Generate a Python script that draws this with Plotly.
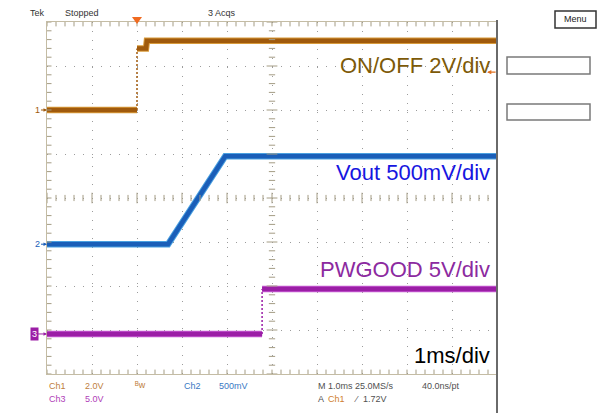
import plotly.graph_objects as go

# time in ms (1 ms/div, trigger at t=0), levels in volts
ch1_t = [-2.0, 0.0, 0.0, 0.2, 0.22, 8.0]
ch1_v = [0.0, 0.0, 2.8, 2.8, 3.15, 3.15]
ch2_t = [-2.0, 0.69, 1.96, 8.0]
ch2_v = [0.0, 0.0, 1.0, 1.0]
ch3_t = [-2.0, 2.78, 2.78, 8.0]
ch3_v = [0.0, 0.0, 5.1, 5.1]

# volts per division and ground marker position (divisions from bottom)
ch_scale = [2.0, 0.5, 5.0]
ch_ground = [6.0, 2.95, 0.91]
trig_t = 0.0
trig_level = 1.72

ch_colors = ["#a05a0c", "#1a5eb8", "#9b1ea6"]
ch_glow = ["#d89a3a", "#4aa0e0", "#c45ad0"]
label_colors = ["#7d5a08", "#1616e0", "#8c2aa0"]
labels = ["ON/OFF 2V/div", "Vout 500mV/div", "PWGOOD 5V/div"]
label_y = [7.02, 4.57, 2.38]

FONT = "Liberation Sans, Arial, sans-serif"


def px(x):
    return (x - 47) / 450


def py(y):
    return (374 - y) / 352


def split(t, d):
    # sloped/flat runs drawn thick, vertical edges drawn thin
    thick_x, thick_y, thin_x, thin_y = [], [], [], []
    run_x, run_y = [], []
    for i in range(len(t) - 1):
        if t[i] == t[i + 1]:
            if run_x:
                thick_x += run_x + [None]
                thick_y += run_y + [None]
                run_x, run_y = [], []
            thin_x += [t[i], t[i + 1], None]
            thin_y += [d[i], d[i + 1], None]
        else:
            if not run_x:
                run_x, run_y = [t[i]], [d[i]]
            run_x.append(t[i + 1])
            run_y.append(d[i + 1])
    if run_x:
        thick_x += run_x
        thick_y += run_y
    return thick_x, thick_y, thin_x, thin_y


fig = go.Figure()

for i, (t, v) in enumerate([(ch1_t, ch1_v), (ch2_t, ch2_v), (ch3_t, ch3_v)]):
    d = [ch_ground[i] + val / ch_scale[i] for val in v]
    tx, ty, nx, ny = split(t, d)
    if nx:
        fig.add_trace(go.Scatter(x=nx, y=ny, mode="lines",
                                 line=dict(color=ch_colors[i], width=1.5, dash="2px,2px"),
                                 hoverinfo="skip"))
    fig.add_trace(go.Scatter(x=tx, y=ty, mode="lines",
                             line=dict(color=ch_glow[i], width=6.5), hoverinfo="skip"))
    fig.add_trace(go.Scatter(x=tx, y=ty, mode="lines",
                             line=dict(color=ch_colors[i], width=4.5), hoverinfo="skip"))

# graticule ticks
tick_col = "#a49c84"
shapes = []
for k in range(51):
    x = -2 + k * 0.2
    major = k % 5 == 0
    for y0, y1 in [(8, 7.9), (0, 0.1)]:
        shapes.append(dict(type="line", x0=x, x1=x, y0=y0, y1=y1,
                           line=dict(color=tick_col, width=1)))
    h = 0.12 if major else 0.07
    shapes.append(dict(type="line", x0=x, x1=x, y0=4 - h, y1=4 + h,
                       line=dict(color=tick_col, width=1)))
for k in range(41):
    y = k * 0.2
    major = k % 5 == 0
    shapes.append(dict(type="line", x0=-2, x1=-1.9, y0=y, y1=y,
                       line=dict(color=tick_col, width=1)))
    w = 0.12 if major else 0.07
    shapes.append(dict(type="line", x0=3 - w, x1=3 + w, y0=y, y1=y,
                       line=dict(color=tick_col, width=1)))

# right separator and side panel boxes
shapes.append(dict(type="line", xref="paper", yref="paper", x0=px(497), x1=px(497),
                   y0=py(20), y1=py(413), line=dict(color="#6a6a6a", width=2)))
for top, bot in [(57, 74), (104, 120)]:
    shapes.append(dict(type="rect", xref="paper", yref="paper", x0=px(507), x1=px(590),
                       y0=py(bot), y1=py(top), line=dict(color="#7a7a7a", width=1.5)))
shapes.append(dict(type="rect", xref="paper", yref="paper", x0=px(555), x1=px(596),
                   y0=py(28), y1=py(11), line=dict(color="#333333", width=1.5)))
# trigger position marker
tx0 = 47 + (trig_t + 2) * 45
shapes.append(dict(type="path", xref="paper", yref="paper",
                   path=f"M {px(tx0 - 5)} {py(17)} L {px(tx0 + 5)} {py(17)} L {px(tx0)} {py(24)} Z",
                   fillcolor="#f06a20", line=dict(width=0)))

ann = []
for i in range(3):
    ann.append(dict(x=7.88, y=label_y[i], xref="x", yref="y", text=labels[i],
                    showarrow=False, xanchor="right", yanchor="middle",
                    font=dict(family=FONT, size=22, color=label_colors[i])))
ann.append(dict(x=7.88, y=0.41, xref="x", yref="y", text="1ms/div", showarrow=False,
                xanchor="right", yanchor="middle", font=dict(family=FONT, size=22, color="#000000")))

# channel ground markers
for i in range(3):
    a = dict(x=-2, y=ch_ground[i], xref="x", yref="y", text=str(i + 1), showarrow=True,
             ax=-10, ay=0, arrowhead=2, arrowsize=0.7, arrowwidth=1, arrowcolor=ch_colors[i],
             font=dict(family=FONT, size=9, color=ch_colors[i]))
    if i == 2:
        a.update(ax=-13, bgcolor=ch_colors[i], borderpad=1, font=dict(family=FONT, size=9, color="white"))
    ann.append(a)

# trigger level marker on right edge
ann.append(dict(x=7.78, y=ch_ground[0] + trig_level / ch_scale[0], xref="x", yref="y", text="",
                showarrow=True, ax=10, ay=0, arrowhead=2, arrowsize=0.7, arrowwidth=1.2,
                arrowcolor="#e07020"))

# status bar and header text
status = [
    ("Tek", 28, 13, "#333333"), ("Stopped", 63, 13, "#333333"), ("3 Acqs", 206, 13, "#333333"),
    ("Menu", 562, 19, "#222222"),
    ("Ch1", 47, 386, "#c08040"), ("2.0V", 83, 386, "#c08040"), ("ᴮw", 133, 385, "#c08040"),
    ("Ch2", 182, 386, "#3a78c4"), ("500mV", 217, 386, "#3a78c4"),
    ("M 1.0ms 25.0MS/s", 316, 386, "#505050"), ("40.0ns/pt", 420, 386, "#505050"),
    ("Ch3", 47, 399, "#b040b8"), ("5.0V", 83, 399, "#b040b8"),
    ("A", 316, 399, "#505050"), ("Ch1", 326, 399, "#d08030"), ("⁄", 352, 399, "#505050"),
    ("1.72V", 361, 399, "#505050"),
]
for text, x, y, col in status:
    ann.append(dict(x=px(x), y=py(y), xref="paper", yref="paper", text=text, showarrow=False,
                    xanchor="left", yanchor="middle", font=dict(family=FONT, size=9, color=col)))

fig.update_layout(
    width=597, height=413,
    margin=dict(l=47, r=100, t=22, b=39, autoexpand=False),
    paper_bgcolor="white", plot_bgcolor="white",
    showlegend=False,
    shapes=shapes, annotations=ann,
    xaxis=dict(range=[-2, 8], dtick=1, showticklabels=False, ticks="", zeroline=False,
               showgrid=True, gridcolor="#9c9c9c", griddash="1px,8px", gridwidth=1,
               showline=True, linecolor="#c4bca4", mirror=True, fixedrange=True),
    yaxis=dict(range=[0, 8], dtick=1, showticklabels=False, ticks="", zeroline=False,
               showgrid=True, gridcolor="#9c9c9c", griddash="1px,8px", gridwidth=1,
               showline=True, linecolor="#c4bca4", mirror=True, fixedrange=True),
)

# page body has a default margin; remove it so the figure sits at the window origin
fig.write_html("out.html", config={"displayModeBar": False},
               post_script="document.body.style.margin='0';document.body.style.overflow='hidden';")
